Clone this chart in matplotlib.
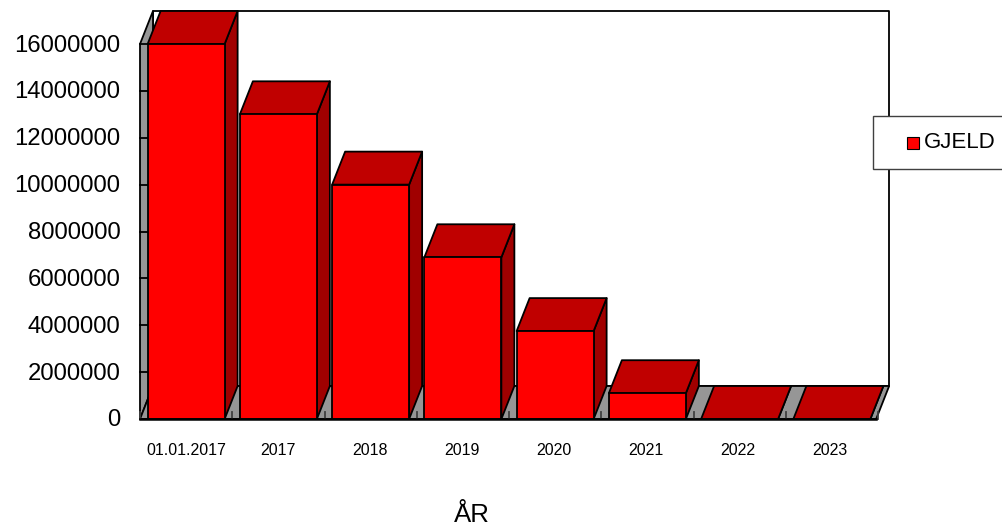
import matplotlib.pyplot as plt
from matplotlib.patches import Polygon, Rectangle
from matplotlib.transforms import ScaledTranslation

plt.rcParams["font.family"] = ["Liberation Sans", "DejaVu Sans"]

# Debt per year
categories = ["01.01.2017", "2017", "2018", "2019", "2020", "2021", "2022", "2023"]
gjeld = [16000000, 13000000, 10000000, 6900000, 3750000, 1100000, 0, 0]
y_ticks = [0, 2000000, 4000000, 6000000, 8000000, 10000000, 12000000, 14000000, 16000000]

W, H = 1002, 528
SLOT = 92.25  # pixels per category
DX = 13 / SLOT  # depth of the 3D effect in category units
DY = 33 / 375 * 16000000  # depth of the 3D effect in value units
BAR_W = 77 / SLOT
LW = 1.3


def face(ax, pts, color, z):
    ax.add_patch(Polygon(pts, closed=True, facecolor=color, edgecolor="black",
                         linewidth=LW, clip_on=False, zorder=z, joinstyle="round"))


fig = plt.figure(figsize=(W / 100, H / 100), dpi=100)
ax = fig.add_axes([140 / W, (H - 419) / H, 8 * SLOT / W, 375 / H])
ax.set_xlim(-0.5, 7.5)
ax.set_ylim(0, 16000000)
for s in ax.spines.values():
    s.set_visible(False)
ax.patch.set_visible(False)

x0, x1 = -0.5, 7.48
y1 = 16000000

# Walls and floor
face(ax, [(x0 + DX, DY), (x1 + DX, DY), (x1 + DX, y1 + DY), (x0 + DX, y1 + DY)], "white", 1)
face(ax, [(x0, 0), (x0 + DX, DY), (x0 + DX, y1 + DY), (x0, y1)], "#969696", 1)
face(ax, [(x0, 0), (x1, 0), (x1 + DX, DY), (x0 + DX, DY)], "#969696", 1)

# Short marks on the wall and floor
for t in y_ticks:
    ax.plot([x0, x0 + DX * 0.55], [t, t], color="black", lw=LW, clip_on=False, zorder=2)
for i in range(len(categories) + 1):
    ax.plot([i - 0.5, i - 0.5], [0, DY * 0.2], color="#404040", lw=LW, clip_on=False, zorder=2)

# Bars, left to right so each one sits over the previous
for i, v in enumerate(gjeld):
    l, r = i - BAR_W / 2, i + BAR_W / 2
    z = 3 + i
    face(ax, [(r, 0), (r + DX, DY), (r + DX, v + DY), (r, v)], "#A00000", z)
    face(ax, [(l, v), (r, v), (r + DX, v + DY), (l + DX, v + DY)], "#C00000", z)
    if v > 0:
        face(ax, [(l, 0), (r, 0), (r, v), (l, v)], "#FF0000", z)

ax.plot([x0, x1], [0, 0], color="black", lw=1.8, clip_on=False, zorder=20)

# Category labels are spaced a little tighter than the bars
ax.set_xticks([i * 92 / SLOT for i in range(len(categories))])
ax.set_xticklabels(categories, fontsize=11.5)
ax.set_yticks(y_ticks)
ax.set_yticklabels([str(t) for t in y_ticks], fontsize=17.2)
ax.tick_params(axis="x", length=0, pad=17)
ax.tick_params(axis="y", length=0, pad=14)
ax.set_xlabel("ÅR", fontsize=18.5, labelpad=33, x=0.45)

# Nudge the value labels up one pixel
nudge = ScaledTranslation(0, 1 / 100, fig.dpi_scale_trans)
for lab in ax.get_yticklabels():
    lab.set_transform(lab.get_transform() + nudge)

# Legend box runs off the right edge of the figure
fig.add_artist(Rectangle((873 / W, (H - 169) / H), 140 / W, 53 / H, transform=fig.transFigure,
                         facecolor="white", edgecolor="#404040", linewidth=1, zorder=30))
fig.add_artist(Rectangle((907 / W, (H - 149) / H), 12 / W, 12 / H, transform=fig.transFigure,
                         facecolor="#FF0000", edgecolor="black", linewidth=0.8, zorder=31))
fig.text(923.5 / W, (H - 142) / H, "GJELD", fontsize=16, va="center", ha="left", zorder=31)

fig.savefig("out.png", dpi=100)
